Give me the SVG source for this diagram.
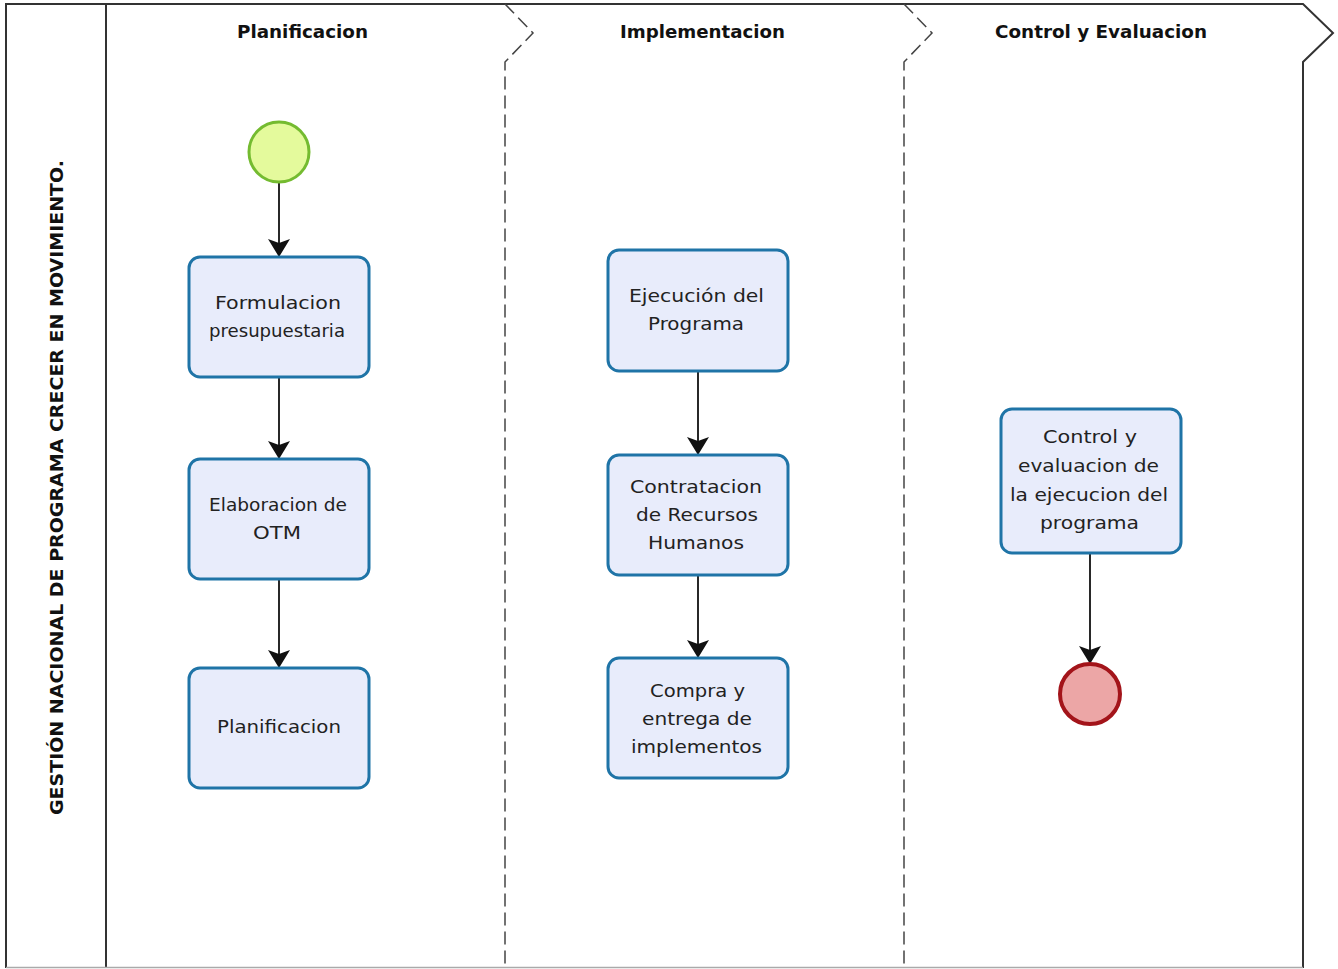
<svg xmlns="http://www.w3.org/2000/svg" width="1338" height="969" viewBox="0 0 1338 969">
<style>
.pool{fill:none;stroke:#333;stroke-width:2}
.sep{fill:none;stroke:#444;stroke-width:1.5;stroke-dasharray:13,6}
.hdr{font-family:"DejaVu Sans",sans-serif;font-weight:bold;font-size:17px;fill:#111;text-anchor:middle}
.title{font-family:"DejaVu Sans",sans-serif;font-weight:bold;font-size:18px;fill:#111;text-anchor:middle}
.task rect{fill:#e8ecfb;stroke:#1f74a7;stroke-width:3}
.task text{font-family:"DejaVu Sans",sans-serif;font-size:18px;fill:#222;text-anchor:middle}
.flow{fill:none;stroke:#111;stroke-width:1.8}
</style>
<defs>
<marker id="arr" viewBox="0 0 18 22" refX="18" refY="11" markerWidth="18" markerHeight="22" markerUnits="userSpaceOnUse" orient="auto">
<path d="M0,0 L4,11 L0,22 L18,11 Z" fill="#111"/>
</marker>
</defs>
<rect width="1338" height="969" fill="#fff"/>
<g id="pool">
<path class="pool" d="M6,968 L6,4 L1303,4 L1333,33 L1303,62 L1303,968"/>
<line x1="106" y1="4" x2="106" y2="968" class="pool"/>
<line x1="6" y1="967.5" x2="1303" y2="967.5" stroke="#aaa" stroke-width="1.5"/>
<path class="sep" d="M505,4 L533,33 L505,62 L505,968"/>
<path class="sep" d="M904,4 L932,33 L904,62 L904,968"/>
<text class="title" transform="translate(63,487.5) rotate(-90)" textLength="655" lengthAdjust="spacingAndGlyphs">GESTIÓN NACIONAL DE PROGRAMA CRECER EN MOVIMIENTO.</text>
</g>
<g id="lane-headers">
<text class="hdr" x="302.5" y="38" textLength="131" lengthAdjust="spacingAndGlyphs">Planificacion</text>
<text class="hdr" x="702.5" y="38" textLength="165" lengthAdjust="spacingAndGlyphs">Implementacion</text>
<text class="hdr" x="1101" y="38" textLength="212" lengthAdjust="spacingAndGlyphs">Control y Evaluacion</text>
</g>
<g id="connectors">
<line class="flow" x1="279" y1="183" x2="279" y2="257" marker-end="url(#arr)"/>
<line class="flow" x1="279" y1="378" x2="279" y2="459" marker-end="url(#arr)"/>
<line class="flow" x1="279" y1="580" x2="279" y2="668" marker-end="url(#arr)"/>
<line class="flow" x1="698" y1="372" x2="698" y2="455" marker-end="url(#arr)"/>
<line class="flow" x1="698" y1="576" x2="698" y2="658" marker-end="url(#arr)"/>
<line class="flow" x1="1090" y1="554" x2="1090" y2="664" marker-end="url(#arr)"/>
</g>
<g id="start">
<circle cx="279" cy="152" r="30" fill="#e4fa9c" stroke="#74bb30" stroke-width="3"/>
</g>
<g id="end">
<circle cx="1090" cy="694" r="30" fill="#eca6a6" stroke="#a3141a" stroke-width="4"/>
</g>
<g id="task-formulacion" class="task">
<rect x="189" y="257" width="180" height="120" rx="11"/>
<text x="278" y="309" textLength="126" lengthAdjust="spacingAndGlyphs">Formulacion</text>
<text x="277" y="337" textLength="136" lengthAdjust="spacingAndGlyphs">presupuestaria</text>
</g>
<g id="task-elaboracion" class="task">
<rect x="189" y="459" width="180" height="120" rx="11"/>
<text x="278" y="511" textLength="138" lengthAdjust="spacingAndGlyphs">Elaboracion de</text>
<text x="277" y="539" textLength="48" lengthAdjust="spacingAndGlyphs">OTM</text>
</g>
<g id="task-planificacion" class="task">
<rect x="189" y="668" width="180" height="120" rx="11"/>
<text x="279" y="733" textLength="124" lengthAdjust="spacingAndGlyphs">Planificacion</text>
</g>
<g id="task-ejecucion" class="task">
<rect x="608" y="250" width="180" height="121" rx="11"/>
<text x="696.5" y="302" textLength="135" lengthAdjust="spacingAndGlyphs">Ejecución del</text>
<text x="696" y="330" textLength="96" lengthAdjust="spacingAndGlyphs">Programa</text>
</g>
<g id="task-contratacion" class="task">
<rect x="608" y="455" width="180" height="120" rx="11"/>
<text x="696" y="493" textLength="132" lengthAdjust="spacingAndGlyphs">Contratacion</text>
<text x="697" y="521" textLength="122" lengthAdjust="spacingAndGlyphs">de Recursos</text>
<text x="696" y="549" textLength="96" lengthAdjust="spacingAndGlyphs">Humanos</text>
</g>
<g id="task-compra" class="task">
<rect x="608" y="658" width="180" height="120" rx="11"/>
<text x="697.5" y="697" textLength="95" lengthAdjust="spacingAndGlyphs">Compra y</text>
<text x="697" y="725" textLength="110" lengthAdjust="spacingAndGlyphs">entrega de</text>
<text x="696.5" y="753" textLength="131" lengthAdjust="spacingAndGlyphs">implementos</text>
</g>
<g id="task-control" class="task">
<rect x="1001" y="409" width="180" height="144" rx="11"/>
<text x="1090" y="443" textLength="94" lengthAdjust="spacingAndGlyphs">Control y</text>
<text x="1088.5" y="472" textLength="141" lengthAdjust="spacingAndGlyphs">evaluacion de</text>
<text x="1089" y="501" textLength="158" lengthAdjust="spacingAndGlyphs">la ejecucion del</text>
<text x="1089.5" y="529" textLength="99" lengthAdjust="spacingAndGlyphs">programa</text>
</g>
</svg>
